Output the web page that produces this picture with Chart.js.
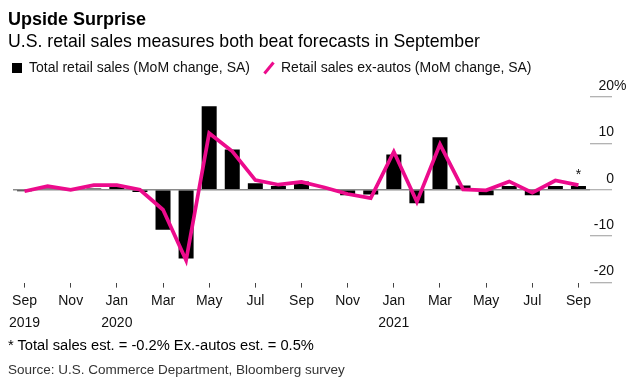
<!DOCTYPE html>
<html>
<head>
<meta charset="utf-8">
<script src="https://cdn.jsdelivr.net/npm/chart.js@4.4.0/dist/chart.umd.min.js"></script>
<style>
  html, body { margin: 0; padding: 0; background: #fff; }
  body { width: 642px; height: 388px; position: relative; overflow: hidden;
         font-family: "Liberation Sans", Arial, sans-serif; color: #000; }
  #wrap { position: absolute; left: 0; top: 0; width: 642px; height: 388px; }
  .txt { position: absolute; left: 8px; line-height: 1; white-space: nowrap; }
  #title { top: 10px; font-size: 18px; font-weight: bold; }
  #subtitle { top: 33px; font-size: 17.7px; }
  #note { top: 338px; font-size: 14.7px; }
  #source { top: 363px; font-size: 13.5px; color: #333; }
</style>
</head>
<body>
<div id="wrap"><canvas id="chart"></canvas></div>
<div class="txt" id="title">Upside Surprise</div>
<div class="txt" id="subtitle">U.S. retail sales measures both beat forecasts in September</div>
<div class="txt" id="note">* Total sales est. = -0.2% Ex.-autos est. = 0.5%</div>
<div class="txt" id="source">Source: U.S. Commerce Department, Bloomberg survey</div>
<script>
const months = [
  'Sep 2019', 'Oct 2019', 'Nov 2019', 'Dec 2019', 'Jan 2020', 'Feb 2020', 'Mar 2020',
  'Apr 2020', 'May 2020', 'Jun 2020', 'Jul 2020', 'Aug 2020', 'Sep 2020', 'Oct 2020',
  'Nov 2020', 'Dec 2020', 'Jan 2021', 'Feb 2021', 'Mar 2021', 'Apr 2021', 'May 2021',
  'Jun 2021', 'Jul 2021', 'Aug 2021', 'Sep 2021'
];
// MoM % change, SA
const totalSales = [-0.3, 0.3, 0.2, 0.3, 0.6, -0.5, -8.6, -14.8, 18.0, 8.7, 1.4, 0.8, 1.8,
  0.0, -1.2, -1.0, 7.6, -2.9, 11.3, 0.9, -1.2, 0.8, -1.2, 0.8, 0.8];
const exAutos = [-0.3, 0.8, 0.0, 1.0, 1.0, 0.0, -4.3, -15.2, 12.2, 8.3, 2.1, 1.1, 1.7,
  0.5, -0.9, -1.8, 8.2, -2.6, 9.8, 0.1, -0.1, 1.8, -0.6, 2.0, 1.0];
const yTicks = [-20, -10, 0, 10, 20];

const FONT = '"Liberation Sans", Arial, sans-serif';
const PINK = '#ec0b8c';

const extras = {
  id: 'extras',
  afterLayout(chart) {
    // pull the legend to the left edge and up towards the subtitle
    chart.legend.left -= 15;
    chart.legend.top -= 12;
  },
  afterDraw(chart) {
    const { ctx, scales: { x, y } } = chart;
    ctx.save();
    ctx.font = '14px ' + FONT;
    ctx.fillStyle = '#111';
    ctx.textBaseline = 'middle';
    ctx.textAlign = 'left';
    ctx.fillText('%', y.left + 24, y.getPixelForValue(yTicks[yTicks.length - 1]) - 11);
    const last = months.length - 1;
    ctx.textAlign = 'center';
    ctx.fillText('*', x.getPixelForValue(last), y.getPixelForValue(exAutos[last]) - 10);
    ctx.restore();
  }
};

new Chart(document.getElementById('chart'), {
  type: 'bar',
  data: {
    labels: months,
    datasets: [
      {
        type: 'bar',
        label: 'Total retail sales (MoM change, SA)',
        data: totalSales,
        backgroundColor: '#000',
        borderWidth: 0,
        categoryPercentage: 1,
        barPercentage: 0.65,
        pointStyle: 'rect',
        order: 1
      },
      {
        type: 'line',
        label: 'Retail sales ex-autos (MoM change, SA)',
        data: exAutos,
        borderColor: PINK,
        backgroundColor: PINK,
        borderWidth: 3.7,
        tension: 0,
        pointRadius: 0,
        pointHoverRadius: 0,
        pointStyle: 'line',
        pointRotation: -50,
        pointBorderWidth: 3,
        pointBorderColor: PINK,
        order: 0
      }
    ]
  },
  options: {
    responsive: true,
    maintainAspectRatio: false,
    animation: false,
    layout: { padding: { left: 13, right: 22, top: 59, bottom: 51 } },
    plugins: {
      tooltip: { enabled: false },
      legend: {
        position: 'top',
        align: 'start',
        labels: {
          usePointStyle: true,
          boxWidth: 10,
          boxHeight: 10,
          padding: 14,
          color: '#111',
          font: { family: FONT, size: 14 },
          sort: (a, b) => a.datasetIndex - b.datasetIndex
        }
      }
    },
    scales: {
      x: {
        offset: true,
        border: { display: false },
        grid: {
          offset: false,
          drawOnChartArea: false,
          tickLength: 5,
          tickWidth: 1,
          tickColor: c => (c.index % 2 === 0 ? '#444' : 'rgba(0,0,0,0)')
        },
        ticks: {
          autoSkip: false,
          maxRotation: 0,
          padding: 3,
          color: '#111',
          font: { family: FONT, size: 14, lineHeight: 1.55 },
          callback: (v, i) => {
            if (i % 2) return '';
            const [mon, yr] = months[i].split(' ');
            return (i === 0 || mon === 'Jan') ? [mon, yr] : mon;
          }
        }
      },
      y: {
        position: 'right',
        min: yTicks[0],
        max: yTicks[yTicks.length - 1],
        afterBuildTicks: s => { s.ticks = yTicks.map(v => ({ value: v })); },
        afterFit: s => { s.width = 30; },
        border: { display: false },
        grid: {
          drawOnChartArea: true,
          color: c => (c.tick && c.tick.value === 0 ? '#8a8a8a' : 'rgba(0,0,0,0)'),
          lineWidth: 1.5,
          tickLength: 22,
          tickWidth: 1,
          tickColor: '#9a9a9a'
        },
        ticks: {
          mirror: true,
          padding: 24,
          labelOffset: -11,
          color: '#111',
          font: { family: FONT, size: 14 },
          callback: v => String(v)
        }
      }
    }
  },
  plugins: [extras]
});
</script>
</body>
</html>
